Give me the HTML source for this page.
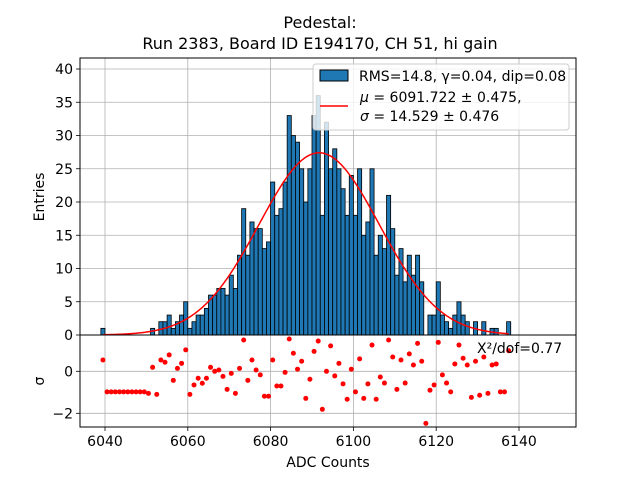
<!DOCTYPE html>
<html><head><meta charset="utf-8"><style>
html,body{margin:0;padding:0;background:#fff;}
svg{display:block;font-family:"DejaVu Sans","Liberation Sans",sans-serif;}
</style></head><body>
<svg id="chart" width="640" height="480" viewBox="0 0 640 480" xmlns="http://www.w3.org/2000/svg">
<rect width="640" height="480" fill="#fff"/>
<text x="320" y="28" text-anchor="middle" font-size="16">Pedestal:</text>
<text x="320" y="49" text-anchor="middle" font-size="16">Run 2383, Board ID E194170, CH 51, hi gain</text>
<g id="grid"></g>
<g id="bars"></g>
<path id="fit" fill="none" stroke="red" stroke-width="1.5"/>
<g id="resid"></g>
<g id="axes"></g>
<text transform="translate(44,197) rotate(-90)" text-anchor="middle" font-size="14">Entries</text>
<text transform="translate(44,381) rotate(-90)" text-anchor="middle" font-size="14">σ</text>
<text x="328" y="467" text-anchor="middle" font-size="14">ADC Counts</text>
<text x="477" y="353" font-size="14">Χ²/dof=0.77</text>
<g>
<rect x="313" y="64" width="256" height="66" rx="3" fill="#fff" fill-opacity="0.8" stroke="#ccc"/>
<rect x="320" y="70" width="28" height="11" fill="#1f77b4" stroke="#000"/>
<text x="359" y="81" font-size="14">RMS=14.8, γ=0.04, dip=0.08</text>
<line x1="320" y1="106" x2="348" y2="106" stroke="red" stroke-width="1.5"/>
<text x="360" y="102" font-size="14"><tspan font-style="italic">μ</tspan> = 6091.722 ± 0.475,</text>
<text x="360" y="121" font-size="14"><tspan font-style="italic">σ</tspan> = 14.529 ± 0.476</text>
</g>
</svg>
<script>
const binStart = 6039;
const counts = [1,0,0,0,0,0,0,0,0,0,0,0,1,0,2,2,3,1,2,3,5,1,2,3,3,4,6,6,7,7,6,9,7,12,19,12,17,16,16,13,14,23,18,19,23,33,30,29,25,20,25,33,36,18,32,25,28,25,22,18,24,18,25,15,17,25,12,15,13,21,16,9,13,8,12,9,12,8,0,3,3,8,3,2,1,3,5,3,2,0,2,0,2,0,1,1,0,0,2];
const residuals = [0.54,-0.98,-0.98,-0.98,-0.98,-0.98,-0.98,-0.98,-0.98,-0.98,-0.98,-1.05,0.19,-1.1,0.54,0.43,0.78,-0.43,0.14,0.38,1.02,-1.1,-0.65,-0.33,-0.57,-0.33,0.19,0,0.06,-0.24,-0.86,-0.1,-1.05,0.14,1.49,-0.43,0.54,0.06,-0.17,-1.19,-1.19,0.54,-0.7,-0.7,-0.05,1.54,0.86,0.1,0.48,-1.29,-0.38,0.95,1.44,-1.81,0,1.21,-0.22,0.38,-0.6,-1.33,0.1,-0.98,0.59,-1.29,-0.6,1.25,-1.33,-0.27,-0.56,1.49,0.68,-0.86,0.54,-0.56,0.83,0.3,1.33,0.48,-2.48,-0.9,-0.65,1.38,-0.17,-0.56,-0.98,0.35,1.25,0.62,0.3,-1.24,0.48,-1.14,0.68,-1.05,0.3,0.35,-0.98,-0.98,0.98];
const fitMu = 6091.722, fitSigma = 14.529, fitAmp = 27.4;
const xTicks = [6040,6060,6080,6100,6120,6140];
const yTicks = [0,5,10,15,20,25,30,35,40];
const rTicks = [-2,0];

const NS='http://www.w3.org/2000/svg';
const L=80,R=576,T=58,B=335,RB=427;
const xs=v=>105+(v-6040)*4.14;
const ys=v=>B-v*6.65;
const rs=v=>371.3-v*21;
function mk(tag,attrs,parent){const e=document.createElementNS(NS,tag);for(const k in attrs)e.setAttribute(k,attrs[k]);document.getElementById(parent).appendChild(e);return e;}

xTicks.forEach(t=>{
  const g1=mk('line',{x1:xs(t),x2:xs(t),y1:T,y2:B,stroke:'#b0b0b0','stroke-width':0.8},'grid');
  
  
  const g2=mk('line',{x1:xs(t),x2:xs(t),y1:B,y2:RB,stroke:'#b0b0b0','stroke-width':0.8},'grid');
  
  
  const tk=mk('line',{x1:xs(t),x2:xs(t),y1:RB,y2:RB+4,stroke:'#000','stroke-width':0.8},'axes');
  
  
  const tl=mk('text',{x:xs(t),y:RB+19,'text-anchor':'middle','font-size':14},'axes');
  tl.textContent=t;
  
  
});
yTicks.forEach(t=>{
  const g=mk('line',{x1:L,x2:R,y1:ys(t),y2:ys(t),stroke:'#b0b0b0','stroke-width':0.8},'grid');
  
  
  const tk=mk('line',{x1:L-4,x2:L,y1:ys(t),y2:ys(t),stroke:'#000','stroke-width':0.8},'axes');
  
  
  const tl=mk('text',{x:L-7,y:ys(t)+5,'text-anchor':'end','font-size':14},'axes');
  tl.textContent=t;
  
  
});
rTicks.forEach(t=>{
  const g=mk('line',{x1:L,x2:R,y1:rs(t),y2:rs(t),stroke:'#b0b0b0','stroke-width':0.8},'grid');
  
  
  const tk=mk('line',{x1:L-4,x2:L,y1:rs(t),y2:rs(t),stroke:'#000','stroke-width':0.8},'axes');
  
  
  const tl=mk('text',{x:L-7,y:rs(t)+5,'text-anchor':'end','font-size':14},'axes');
  tl.textContent=(t<0?'\u2212'+(-t):t);
  
  
});
counts.forEach((c,i)=>{
  if(c<=0)return;
  const x0=xs(binStart+i),x1=xs(binStart+i+1);
  const b=mk('rect',{x:x0,y:ys(c),width:x1-x0,height:B-ys(c),fill:'#1f77b4',stroke:'#000','stroke-width':0.8},'bars');
  
  
});
let d='';
for(let v=binStart+0.5;v<=binStart+counts.length-0.5;v+=0.25){
  const y=fitAmp*Math.exp(-((v-fitMu)**2)/(2*fitSigma*fitSigma));
  d+=(d?'L':'M')+xs(v).toFixed(2)+','+ys(y).toFixed(2);
}
document.getElementById('fit').setAttribute('d',d);
residuals.forEach((r,i)=>{
  const p=mk('circle',{cx:xs(binStart+i+0.5),cy:rs(r),r:2.5,fill:'red'},'resid');
  
  
});
const f1=mk('rect',{x:L,y:T,width:R-L,height:B-T,fill:'none',stroke:'#000','stroke-width':1},'axes');


const f2=mk('rect',{x:L,y:B,width:R-L,height:RB-B,fill:'none',stroke:'#000','stroke-width':1},'axes');


</script>
</body></html>
